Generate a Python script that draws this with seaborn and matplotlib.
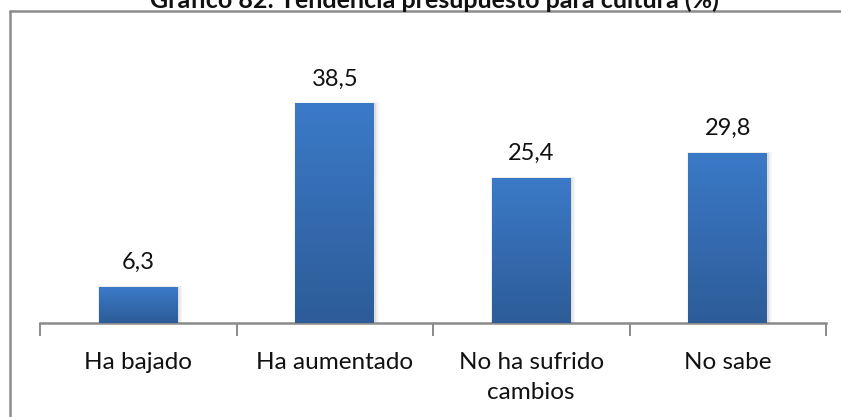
import numpy as np
import pandas as pd
import matplotlib
matplotlib.use("Agg")
import matplotlib.pyplot as plt
from matplotlib.patches import Rectangle
from matplotlib.colors import LinearSegmentedColormap
from matplotlib.lines import Line2D
import seaborn as sns

# Data
categories = ["Ha bajado", "Ha aumentado", "No ha sufrido\ncambios", "No sabe"]
values = [6.3, 38.5, 25.4, 29.8]
value_labels = ["6,3", "38,5", "25,4", "29,8"]
title = "Gráfico 82: Tendencia presupuesto para cultura (%)"

sns.set_theme(style="white")
plt.rcParams["font.family"] = ["Lato", "DejaVu Sans"]

W, H = 841, 417
fig = plt.figure(figsize=(W / 100, H / 100), dpi=100)

# axes placement in pixel units
ax_left, ax_right = 40, 826
ax_base, ax_top = 323, 66
ymax = 45.0
ax = fig.add_axes([ax_left / W, (H - ax_base) / H,
                   (ax_right - ax_left) / W, (ax_base - ax_top) / H])

df = pd.DataFrame({"cat": categories, "val": values})
sns.barplot(data=df, x="cat", y="val", ax=ax, width=0.40,
            color="#3572bb", saturation=1, edgecolor="none", zorder=3)
ax.set_ylim(0, ymax)
ax.set_xlim(-0.5, len(categories) - 0.5)

# vertical gradient + soft shadow on each bar
grad = LinearSegmentedColormap.from_list("g", ["#2d5c98", "#3b7ac8"])
gimg = np.linspace(0, 1, 256).reshape(-1, 1)
for p in list(ax.patches):
    x0, w, h = p.get_x(), p.get_width(), p.get_height()
    for dx, a in [(0.018, 0.035), (0.012, 0.045), (0.006, 0.06)]:
        sh = Rectangle((x0 - dx * 0.3, 0), w + dx * 1.6, h + dx * 8,
                       facecolor="black", alpha=a, edgecolor="none",
                       zorder=2)
        ax.add_patch(sh)
    im = ax.imshow(gimg, cmap=grad, origin="lower", aspect="auto",
                   extent=[x0, x0 + w, 0, h], zorder=4)
    im.set_clip_path(p)

# value labels
for i, (v, lab) in enumerate(zip(values, value_labels)):
    ax.text(i, v + 3.1, lab, ha="center", va="baseline",
            fontsize=17, color="#111111", zorder=5)

ax.set_xlim(-0.5, len(categories) - 0.5)
ax.set_ylim(0, ymax)
ax.set_xlabel("")
ax.set_ylabel("")
ax.set_yticks([])
for s in ["left", "right", "top"]:
    ax.spines[s].set_visible(False)
ax.spines["bottom"].set_color("#8a8a8a")
ax.spines["bottom"].set_linewidth(1.8)

# boundary ticks between categories, labels centred under bars
ax.set_xticks(np.arange(-0.5, len(categories), 1.0))
ax.set_xticklabels([])
ax.tick_params(axis="x", which="major", direction="out", length=9,
               width=1.4, color="#8a8a8a", bottom=True)
ax.set_xticks(np.arange(len(categories)), minor=True)
ax.set_xticklabels(categories, minor=True, fontsize=17.5, color="#111111",
                   linespacing=1.5)
ax.tick_params(axis="x", which="minor", length=0, pad=21)
ax.set_facecolor("none")

# chart frame (top and left edges in view)
fig.add_artist(Line2D([10 / W, 1.0], [(H - 11) / H, (H - 11) / H],
                      transform=fig.transFigure, color="#8c8c8c", lw=1.8))
fig.add_artist(Line2D([10 / W, 10 / W], [0, (H - 11) / H],
                      transform=fig.transFigure, color="#8c8c8c", lw=1.8))

# title sits at the top edge
fig.text(434 / W, (H - 8) / H, title, ha="center", va="baseline",
         fontsize=18, fontweight="bold", color="#111111")

fig.savefig("out.png", dpi=100)
